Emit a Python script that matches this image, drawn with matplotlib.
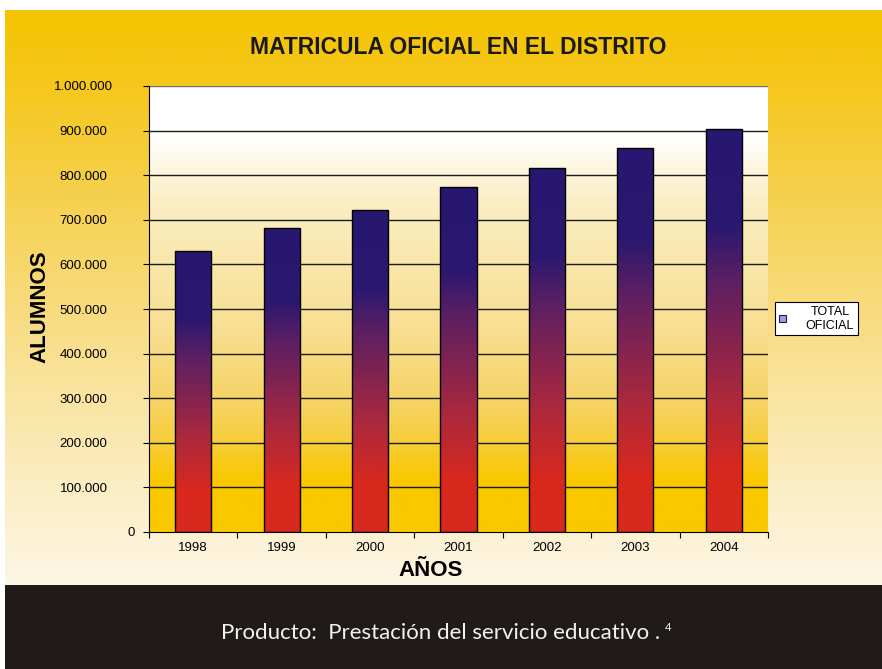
import numpy as np
import matplotlib
matplotlib.use("Agg")
import matplotlib.pyplot as plt
from matplotlib.colors import LinearSegmentedColormap
from matplotlib.patches import Rectangle, Patch
from matplotlib.ticker import FuncFormatter

## -----------------------
## Data
years = ['1998', '1999', '2000', '2001', '2002', '2003', '2004']
total_oficial = [629000, 682000, 721000, 774000, 817000, 861000, 903000]
y_ticks = [0, 100000, 200000, 300000, 400000, 500000, 600000, 700000, 800000, 900000, 1000000]

title = 'MATRICULA OFICIAL EN EL DISTRITO'
y_label = 'ALUMNOS'
x_label = 'AÑOS'
legend_label = 'TOTAL\nOFICIAL'
footer = 'Producto:  Prestación del servicio educativo .'
footer_sup = '4'

plt.rcParams['font.family'] = ['Liberation Sans', 'DejaVu Sans']

W, H = 882, 669
fig = plt.figure(figsize=(W / 100, H / 100), dpi=100)
fig.patch.set_facecolor('white')

## -----------------------
## Page background (pixel coords)
bg = fig.add_axes([0, 0, 1, 1], zorder=-10)
bg.axis('off')
page_cmap = LinearSegmentedColormap.from_list('page', [
    (0.0, '#F5C400'), (0.12, '#F5C71A'), (0.33, '#F6D150'),
    (0.5, '#F8DA7A'), (0.72, '#FAE7AC'), (0.88, '#FCF0CE'), (1.0, '#FDF6E5')])
grad = np.linspace(0, 1, 256).reshape(-1, 1)
bg.imshow(grad, cmap=page_cmap, extent=(5, W, 585, 10), aspect='auto', origin='upper')
bg.add_patch(Rectangle((5, 585), W - 5, H - 585, facecolor='#201B18', edgecolor='none'))
bg.set_xlim(0, W)
bg.set_ylim(H, 0)

## -----------------------
## Main chart
ax = fig.add_axes([149 / W, 1 - 532 / H, 619 / W, 446 / H])
ax.patch.set_visible(False)
x = np.arange(len(years))

plot_cmap = LinearSegmentedColormap.from_list('plotbg', [
    (0.0, '#F9C800'), (0.12, '#F9C800'), (0.2, '#F6CD3A'), (0.3, '#F6D468'),
    (0.47, '#F8E095'), (0.6, '#F9E7AA'), (0.72, '#FBEDC0'), (0.8, '#FDF4DA'),
    (0.86, '#FFFCF5'), (0.9, '#FFFFFF'), (1.0, '#FFFFFF')])
ax.imshow(grad, cmap=plot_cmap, extent=(-0.5, len(years) - 0.5, 0, 1000000),
          aspect='auto', origin='lower', zorder=0)

bar_cmap = LinearSegmentedColormap.from_list('bars', [
    (0.0, '#D92A1E'), (0.15, '#D8281F'), (0.35, '#A8283F'), (0.5, '#7E2352'),
    (0.62, '#5E1F62'), (0.76, '#2A1870'), (1.0, '#281770')])

bars = ax.bar(x, total_oficial, width=0.41, facecolor='none', edgecolor='black',
              linewidth=1, zorder=3)
for b in bars:
    im = ax.imshow(grad, cmap=bar_cmap, origin='lower', aspect='auto', zorder=2,
                   extent=(b.get_x(), b.get_x() + b.get_width(), 0, b.get_height()))
    im.set_clip_path(b)

for v in y_ticks[1:]:
    ax.axhline(v, color='#6E6E6E' if v == 1000000 else '#1A1A1A', lw=1, zorder=1)

ax.set_xlim(-0.5, len(years) - 0.5)
ax.set_ylim(0, 1000000)

for s in ['top', 'right']:
    ax.spines[s].set_visible(False)
ax.spines['left'].set_color('black')
ax.spines['bottom'].set_color('black')

ax.set_yticks(y_ticks)
ax.yaxis.set_major_formatter(FuncFormatter(lambda v, p: f"{int(v):,}".replace(",", ".")))
ax.tick_params(axis='y', length=4, width=0.8, direction='out', labelsize=9.5, pad=43)
for t in ax.get_yticklabels():
    t.set_ha('center')
ax.yaxis.get_major_ticks()[0].set_pad(9)

ax.set_xticks(np.arange(len(years) + 1) - 0.5)
ax.set_xticklabels([])
ax.set_xticks(x, minor=True)
ax.set_xticklabels(years, minor=True)
ax.tick_params(axis='x', which='major', length=4, width=0.8, direction='out')
ax.tick_params(axis='x', which='minor', length=0, labelsize=9.5, pad=7)

## -----------------------
## Texts
fig.text(458 / W, 1 - 47 / H, title, ha='center', va='center', fontsize=16.5,
         fontweight='bold', color='#1A1A1A')
fig.text(40 / W, 1 - 307 / H, y_label, ha='center', va='center', rotation=90,
         fontsize=16, fontweight='bold', color='black')
fig.text(431 / W, 1 - 571 / H, x_label, ha='center', va='center',
         fontsize=16, fontweight='bold', color='black')

leg = ax.legend(handles=[Patch(facecolor='#9999FF', edgecolor='#222222', lw=0.8)],
                labels=[legend_label], loc='upper left',
                bbox_to_anchor=(775 / W, 1 - 302 / H), bbox_transform=fig.transFigure,
                frameon=True, fancybox=False, edgecolor='black', facecolor='white',
                framealpha=1, handlelength=0.55, handleheight=0.55, handletextpad=1.6,
                borderpad=0.3, borderaxespad=0, fontsize=9)
leg.get_frame().set_linewidth(0.8)
for t in leg.get_texts():
    t.set_multialignment('center')

ft = fig.text(441 / W, 1 - 633 / H, footer, ha='center', va='center',
              fontsize=16, family=['Lato', 'DejaVu Sans'], fontweight='normal',
              color='#F2F2F2')
fig.canvas.draw()
bb = ft.get_window_extent()
fig.text((bb.x1 + 4) / W, (bb.y1 + 1) / H, footer_sup, ha='left', va='top',
         fontsize=8, family=['Lato', 'DejaVu Sans'], color='#F2F2F2')

fig.savefig('out.png', dpi=100)
